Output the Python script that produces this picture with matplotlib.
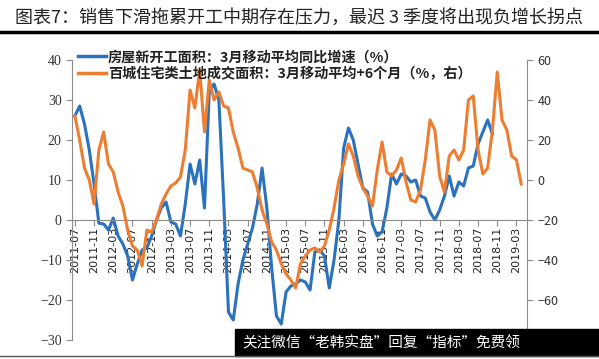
import pandas as pd
import matplotlib.pyplot as plt
from matplotlib.patches import Rectangle
from matplotlib.lines import Line2D

plt.rcParams['font.family'] = ['Noto Sans CJK SC', 'DejaVu Sans']

# monthly data, starting 2011-07
start_month = "2011-07"

# 房屋新开工面积：3月移动平均同比增速（%） — left axis, 2011-07 .. 2018-10
new_starts = [26, 28.5, 24, 17.5, 9, -0.8, -1, -2.5, 0.5, -4,
              -6, -9, -15, -11, -7.5, -7, -4, 0, 3, 4.5,
              -0.5, -1, -4, 4, 14, 9, 15, 3, 32, 34,
              30, 5, -23, -25, -16, -10, -6, -2, 4, 13,
              3, -12, -24, -26, -18, -16.5, -16, -15, -15.5, -17.5,
              -8, -7.5, -9, -17, -10, 0, 18, 23, 20, 14,
              8, 7, -1, -4, -3, 3, 11.5, 9, 11.5, 11,
              9.5, 10, 6, 5.5, 2, 0, 2.5, 6, 11, 6,
              9.5, 8.5, 13, 13.5, 19, 22, 25, 21.5]

# 百城住宅类土地成交面积：3月移动平均+6个月（%，右） — right axis, 2011-07 .. 2019-04
land_sales = [32, 20, 6, 0, -12, 15, 24, 8, 4, -6,
              -13, -25, -33, -35, -43, -25, -26, -20, -12, -7,
              -3, -1.5, 1.5, 15, 45, 36, 55, 24, 50, 40,
              44, 37, 36, 24, 16, 6, 5, 4, -4, -15,
              -22, -31, -35, -42, -47, -50, -54, -42, -38, -35,
              -34, -36, -33, -25, -14, 0, 8, 18, 12, 2,
              -4, -8, -13, 5, 19, 4, 2, 5, 11, -1,
              -10, -11, -5, 10, 30, 25, 2, -6, 12, 15,
              10, 15, 40, 42, 15, 3, 6, 25, 54, 30,
              25, 12, 10, -2]

blue_label = "房屋新开工面积：3月移动平均同比增速（%）"
orange_label = "百城住宅类土地成交面积：3月移动平均+6个月（%，右）"
title = "图表7：销售下滑拖累开工中期存在压力，最迟 3 季度将出现负增长拐点"

months = pd.period_range(start_month, periods=len(land_sales), freq="M")
tick_pos = list(range(0, 93, 4))
tick_labels = [months[i].strftime("%Y-%m") for i in tick_pos]

blue = "#2A72BE"
orange = "#ED7D31"
grey = "#8C8C8C"

fig = plt.figure(figsize=(5.99, 3.59), dpi=100)
ax = fig.add_axes([72 / 599, 19 / 359, 455 / 599, 280 / 359])
ax2 = ax.twinx()

ax.plot(range(len(new_starts)), new_starts, color=blue, lw=2.2, solid_joinstyle="round")
ax2.plot(range(len(land_sales)), land_sales, color=orange, lw=2.2, solid_joinstyle="round")

ax.set_xlim(-0.6, 94.2)
ax.set_ylim(-30, 40)
ax2.set_ylim(-80, 60)
ax.set_yticks(range(-30, 41, 10))
ax2.set_yticks(range(-60, 61, 20))

for s in ["top", "right"]:
    ax.spines[s].set_visible(False)
for s in ["top", "bottom", "left"]:
    ax2.spines[s].set_visible(False)
ax.spines["left"].set_color(grey)
ax2.spines["right"].set_color(grey)
ax.spines["bottom"].set_position(("data", 0))
ax.spines["bottom"].set_color(grey)

ax.set_xticks(tick_pos)
ax.set_xticklabels(tick_labels, rotation=90, fontsize=8, family="DejaVu Sans", color="#222222")
ax.tick_params(axis="x", direction="out", length=4, color=grey, pad=1)
ax.tick_params(axis="y", direction="out", length=4, color=grey, labelsize=9, labelcolor="#333333")
ax2.tick_params(axis="y", direction="out", length=4, color=grey, labelsize=9, labelcolor="#333333")
for t in ax.get_yticklabels():
    t.set_family("Liberation Serif")
    t.set_fontsize(10)

handles = [Line2D([], [], color=blue, lw=2.5), Line2D([], [], color=orange, lw=2.5)]
leg = ax2.legend(handles, [blue_label, orange_label], loc="upper left",
                 bbox_to_anchor=(0.0, 1.055), frameon=False, fontsize=10.2,
                 handlelength=2.0, handletextpad=0.15, labelspacing=0.2,
                 borderaxespad=0.2, borderpad=0.2)
for t in leg.get_texts():
    t.set_fontweight("bold")
    t.set_color("#222222")

fig.text(15 / 599, 1 - 18 / 359, title, fontsize=13, va="center", ha="left", color="#222222")
fig.add_artist(Line2D([0, 1], [1 - 32 / 359, 1 - 32 / 359], color="black", lw=2.5))
fig.add_artist(Line2D([0, 1], [1 - 356 / 359, 1 - 356 / 359], color="#555555", lw=1))

# watermark box at the bottom right
fig.add_artist(Rectangle((235 / 599, 3 / 359), 364 / 599, 27 / 359, color="black", transform=fig.transFigure))
fig.text(242 / 599, 1 - 343 / 359, "关注微信“老韩实盘”回复“指标”免费领", color="white",
         fontsize=10.5, va="center", ha="left")

fig.savefig("out.png", dpi=100)
